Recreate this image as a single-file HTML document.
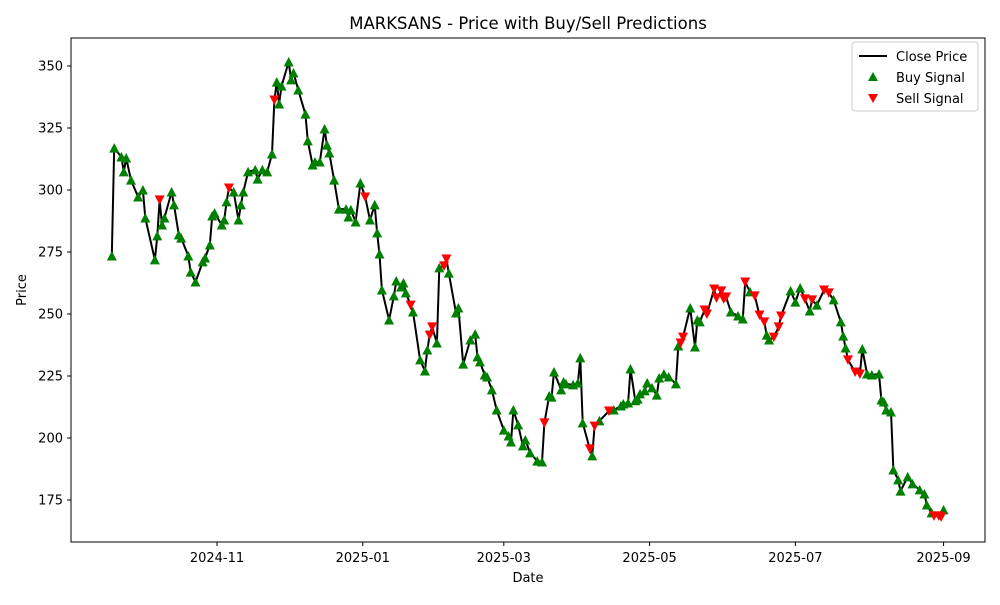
<!DOCTYPE html>
<html><head><meta charset="utf-8"><style>
body{margin:0;background:#fff;font-family:"Liberation Sans","DejaVu Sans",sans-serif;}
svg text{font-family:"DejaVu Sans","Liberation Sans",sans-serif;}
</style></head><body>
<svg id="chart" width="1000" height="600" xmlns="http://www.w3.org/2000/svg">
<rect width="1000" height="600" fill="#fff"/>
<text x="528" y="29" font-size="16.5" text-anchor="middle">MARKSANS - Price with Buy/Sell Predictions</text>
<g id="plot"></g>
<rect x="71" y="38" width="914" height="504" fill="none" stroke="#000" stroke-width="1"/>
<g id="axes"></g>
<text x="528" y="582" font-size="13" text-anchor="middle">Date</text>
<text x="26" y="290" font-size="13" text-anchor="middle" transform="rotate(-90 26 290)">Price</text>
<g>
<rect x="852" y="42" width="126" height="69" rx="3" fill="#fff" stroke="#ccc"/>
<line x1="859" y1="56" x2="887" y2="56" stroke="#000" stroke-width="2"/>
<text x="896" y="61" font-size="13">Close Price</text>
<polygon points="873,72 878,81 868,81" fill="#008000"/>
<text x="896" y="82" font-size="13">Buy Signal</text>
<polygon points="868,94 878,94 873,103" fill="#ff0000"/>
<text x="896" y="103" font-size="13">Sell Signal</text>
</g>
</svg>
<script>
// days since 2024-11-01
const days=[-44,-43,-40,-39,-38,-36,-33,-31,-30,-26,-25,-24,-23,-22,-19,-18,-16,-15,-12,-11,-9,-6,-5,-3,-2,-1,2,3,4,5,7,9,10,11,13,16,17,19,21,23,24,25,26,27,30,31,32,34,37,38,40,41,43,45,46,47,49,51,54,55,56,58,60,62,64,66,67,68,69,72,74,75,77,78,79,81,82,85,87,88,89,90,92,93,95,96,97,100,101,103,106,108,109,110,112,113,115,117,120,122,123,124,126,128,129,131,134,136,137,139,140,141,144,145,146,149,151,152,153,156,157,158,160,164,166,169,170,172,173,175,176,177,179,180,182,184,185,187,189,192,193,194,195,198,200,201,202,204,205,208,209,211,212,213,215,218,220,221,223,225,227,229,230,231,233,235,236,240,242,244,246,248,249,251,254,256,258,261,262,263,264,267,269,270,272,274,277,278,279,280,282,283,285,286,289,291,294,296,297,299,300,302,303,304];
const prices=[273.4,316.9,313.3,307.3,312.9,304,297.2,300,288.7,271.8,281.5,296,285.9,288.7,299.2,294,281.9,280.6,273.4,266.9,262.9,271,272.6,277.8,289.5,290.7,285.9,287.9,295.2,300.8,299.2,287.9,294,299.2,307.3,308.1,304.4,308.1,307.3,314.5,336.3,343.5,334.7,341.9,351.6,344.4,347.2,340.3,330.6,319.8,310.1,311.3,311.3,324.6,318.1,314.9,304,292.3,292.3,289.1,292,287.1,302.8,297.2,287.9,294,282.7,274.2,259.7,247.6,257.3,263.3,260.9,262.5,258.5,253.6,250.8,231.5,227,235.5,241.5,244.8,238.3,268.6,269.4,272.2,266.5,250.4,252.4,229.8,239.5,241.9,232.7,230.7,225.4,224.6,219.4,211.3,203.2,200.8,198.4,211.3,205.3,196.8,199.2,194,190.7,190.3,206.1,217,216.5,226.6,219.4,222.6,221.8,221.4,222.2,232.3,206.1,195.6,192.8,204.8,206.9,210.9,211.3,212.9,213.7,214.1,227.8,215,215.7,217.8,219,222.2,220.2,217.3,224.2,225.8,224.6,221.8,237.1,238.3,240.7,252.4,236.7,247.6,246.8,251.6,250,260.1,256.5,259.3,256.1,256.9,250.8,249.2,248,262.9,258.9,257.3,249.6,246.8,241.5,239.5,240.7,244.8,249.2,259.3,254.8,260.5,256.1,251.2,255.7,253.6,259.7,258.5,255.7,246.8,241.1,236.3,231.5,226.6,225.8,235.9,225.8,225.4,225.8,215.3,214.5,211.3,210.5,187.1,183.1,178.6,184.3,181.5,179.1,177.4,173,169.8,168.6,168.6,168.2,171];
// indices of points flagged as sell signals; all others are buy signals
const sellIndices=[11,29,40,63,75,80,81,84,85,108,119,121,123,141,142,147,148,149,150,151,152,153,157,159,160,161,164,165,166,170,172,174,175,180,181,182,200,201,202];
const yTicks=[175,200,225,250,275,300,325,350];
const xTickDays=[0,61,120,181,242,304];
const xTickLabels=["2024-11","2025-01","2025-03","2025-05","2025-07","2025-09"];

const NS="http://www.w3.org/2000/svg";
const xS=d=>217+d*2.39;
const yS=p=>66+(350-p)*2.48;
function mk(tag,attrs,parent){const e=document.createElementNS(NS,tag);for(const k in attrs)e.setAttribute(k,attrs[k]);parent.appendChild(e);return e;}
const axes=document.getElementById('axes'),plot=document.getElementById('plot');
yTicks.forEach(v=>{const y=yS(v);
 const t=mk('line',{x1:67,x2:71,y1:y,y2:y,stroke:'#000'},axes);
 
 
 const l=mk('text',{x:63,y:y+4.5,'font-size':13,'text-anchor':'end'},axes);l.textContent=v;
 
 
});
xTickDays.forEach((d,i)=>{const x=xS(d);
 const t=mk('line',{x1:x,x2:x,y1:542,y2:546,stroke:'#000'},axes);
 
 
 const l=mk('text',{x:x,y:562,'font-size':13,'text-anchor':'middle'},axes);l.textContent=xTickLabels[i];
 
 
});
const pts=days.map((d,i)=>xS(d).toFixed(1)+','+yS(prices[i]).toFixed(1)).join(' ');
const line=mk('polyline',{points:pts,fill:'none',stroke:'#000','stroke-width':2,'stroke-linejoin':'round'},plot);


const isSell=i=>sellIndices.indexOf(i)>=0;
['B','S'].forEach(kind=>{
 days.forEach((d,i)=>{ const k=isSell(i)?'S':'B'; if(k!==kind)return;
  const x=xS(d),y=yS(prices[i]);
  const p=kind==='B'?`${x},${y-5} ${x+5},${y+4.5} ${x-5},${y+4.5}`:`${x-5},${y-4.5} ${x+5},${y-4.5} ${x},${y+5}`;
  const m=mk('polygon',{points:p,fill:kind==='B'?'#008000':'#ff0000'},plot);
  
  
 });
});
</script>
</body></html>
